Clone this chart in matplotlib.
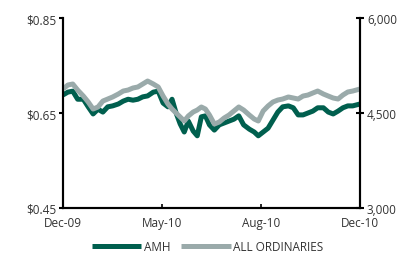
import matplotlib
matplotlib.use("Agg")
import matplotlib.pyplot as plt
from matplotlib.ticker import FuncFormatter

# readings, day 0 = end of Dec-09
days = [0, 6, 12, 18, 25, 31, 37, 43, 49, 55, 61, 68, 74, 80, 86, 92, 98, 104,
        111, 117, 123, 129, 134, 139, 144, 149, 154, 160, 165, 170, 175, 180,
        186, 192, 198, 204, 210, 216, 222, 229, 235, 240, 246, 252, 258, 264,
        270, 277, 283, 289, 295, 301, 307, 313, 320, 326, 332, 338, 344, 350,
        356, 365]
amh = [0.688, 0.694, 0.696, 0.679, 0.679, 0.663, 0.648, 0.658, 0.652, 0.663,
       0.665, 0.669, 0.675, 0.679, 0.677, 0.679, 0.684, 0.686, 0.694, 0.696,
       0.671, 0.663, 0.679, 0.650, 0.627, 0.610, 0.633, 0.612, 0.602, 0.642,
       0.644, 0.625, 0.614, 0.625, 0.629, 0.633, 0.637, 0.644, 0.625, 0.616,
       0.610, 0.602, 0.610, 0.618, 0.635, 0.652, 0.663, 0.665, 0.661, 0.646,
       0.646, 0.650, 0.654, 0.661, 0.661, 0.652, 0.648, 0.654, 0.661, 0.665,
       0.665, 0.669]
all_ords = [4879, 4942, 4958, 4863, 4768, 4674, 4563, 4595, 4689, 4721,
            4753, 4800, 4847, 4863, 4895, 4911, 4958, 5005, 4958, 4911,
            4768, 4642, 4563, 4500, 4437, 4374, 4453, 4516, 4547, 4595,
            4563, 4468, 4326, 4358, 4421, 4468, 4532, 4595, 4547, 4468,
            4405, 4374, 4532, 4611, 4674, 4705, 4721, 4753, 4737, 4721,
            4768, 4784, 4816, 4847, 4800, 4768, 4737, 4721, 4784, 4832,
            4847, 4879]
tick_labels = ["Dec-09", "May-10", "Aug-10", "Dec-10"]

green = "#005f4e"
grey = "#9aaaaa"
txt = "#333333"
plt.rcParams["font.family"] = "Open Sans"

fig = plt.figure(figsize=(4.15, 2.55), dpi=100)
ax = fig.add_axes([0.1518, 0.1804, 0.7157, 0.745])
ax2 = ax.twinx()

l1, = ax.plot(days, amh, color=green, lw=3.6, solid_capstyle="butt", label="AMH")
l2, = ax2.plot(days, all_ords, color=grey, lw=3.6, solid_capstyle="butt",
               label="ALL ORDINARIES")

n = days[-1]
ax.set_xlim(0, n)
ax.set_ylim(0.45, 0.85)
ax.set_yticks([0.45, 0.65, 0.85])
ax.yaxis.set_major_formatter(FuncFormatter(lambda v, p: f"${v:.2f}"))
ax2.set_ylim(3000, 6000)
ax2.set_yticks([3000, 4500, 6000])
ax2.yaxis.set_major_formatter(FuncFormatter(lambda v, p: f"{v:,.0f}"))

ax.set_xticks([0, n / 3, 2 * n / 3, n])
ax.set_xticklabels(tick_labels)

for a in (ax, ax2):
    a.spines["top"].set_visible(False)
    for s in ("left", "right", "bottom"):
        a.spines[s].set_linewidth(1.5)
        a.spines[s].set_color("black")
ax.tick_params(axis="y", direction="out", length=3, width=1.5,
               labelsize=8.5, labelcolor=txt, pad=2)
ax.tick_params(axis="x", direction="in", length=3, width=1.2,
               labelsize=8.5, labelcolor=txt, pad=6)
ax2.tick_params(axis="y", direction="inout", length=6, width=1.5,
                labelsize=8.5, labelcolor=txt, pad=2)

fig.legend(handles=[l1, l2], loc="center", bbox_to_anchor=(0.5, 0.03),
           ncol=2, frameon=False, fontsize=8.5, handlelength=4.2,
           handletextpad=0.2, columnspacing=0.9, labelcolor=txt)

fig.savefig("out.png", dpi=100)
